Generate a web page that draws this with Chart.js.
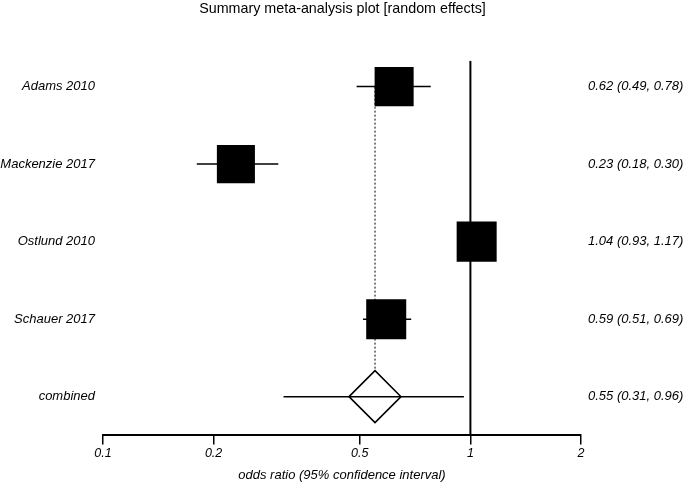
<!DOCTYPE html>
<html>
<head>
<meta charset="utf-8">
<script src="https://cdn.jsdelivr.net/npm/chart.js@4"></script>
<style>
  html, body { margin: 0; padding: 0; background: #fff; }
  #wrap { width: 685px; height: 483px; }
</style>
</head>
<body>
<div id="wrap"><canvas id="forest"></canvas></div>
<script>
const studies = ["Adams 2010", "Mackenzie 2017", "Ostlund 2010", "Schauer 2017", "combined"];
const oddsRatios = [0.62, 0.23, 1.04, 0.59, 0.55];
const lowerCI = [0.49, 0.18, 0.93, 0.51, 0.31];
const upperCI = [0.78, 0.30, 1.17, 0.69, 0.96];
const xTicks = [0.1, 0.2, 0.5, 1, 2];

const pooled = studies.length - 1;
const font = "'Liberation Sans', Arial, sans-serif";

const ciText = oddsRatios.map((v, i) =>
    v.toFixed(2) + " (" + lowerCI[i].toFixed(2) + ", " + upperCI[i].toFixed(2) + ")"
);

const ciLines = studies.map((s, i) => ({
    type: "line",
    data: [{ x: lowerCI[i], y: i + 1 }, { x: upperCI[i], y: i + 1 }],
    borderColor: "#000",
    borderWidth: 1.5,
    pointRadius: 0,
    order: 1
}));

const chart = new Chart(document.getElementById("forest"), {
    type: "scatter",
    data: {
        datasets: [
            ...ciLines,
            {
                // study boxes
                data: oddsRatios.slice(0, pooled).map((v, i) => ({ x: v, y: i + 1 })),
                pointStyle: "rect",
                pointRadius: [27.6, 26.9, 28.3, 28.3],
                backgroundColor: "#000",
                borderColor: "#000",
                borderWidth: 0,
                order: 2
            },
            {
                // pooled diamond
                data: [{ x: oddsRatios[pooled], y: pooled + 1 }],
                pointStyle: "rectRot",
                pointRadius: 26,
                backgroundColor: "#fff",
                borderColor: "#000",
                borderWidth: 1.5,
                order: 3
            },
            {
                // dotted line at pooled estimate
                type: "line",
                data: [{ x: oddsRatios[pooled], y: 1 }, { x: oddsRatios[pooled], y: pooled + 1 }],
                borderColor: "#000",
                borderWidth: 1,
                borderDash: [2, 2],
                pointRadius: 0,
                order: 4
            },
            {
                // line of no effect
                type: "line",
                data: [{ x: 1, y: 0.667 }, { x: 1, y: 5.5 }],
                borderColor: "#000",
                borderWidth: 2,
                pointRadius: 0,
                order: 5
            }
        ]
    },
    options: {
        responsive: true,
        maintainAspectRatio: false,
        animation: false,
        events: [],
        layout: { padding: 0 },
        plugins: {
            legend: { display: false },
            tooltip: { enabled: false },
            title: {
                display: true,
                text: "Summary meta-analysis plot [random effects]",
                color: "#000",
                font: { family: font, size: 14.3, weight: "normal", lineHeight: 1 },
                padding: { top: 1.5, bottom: 45 }
            }
        },
        scales: {
            x: {
                type: "logarithmic",
                min: 0.1,
                max: 2,
                afterBuildTicks: s => { s.ticks = xTicks.map(v => ({ value: v })); },
                ticks: {
                    color: "#000",
                    font: { family: font, size: 12.5, style: "italic" },
                    padding: 2,
                    maxRotation: 0,
                    autoSkip: false,
                    callback: v => String(v)
                },
                grid: { drawOnChartArea: false, drawTicks: true, tickLength: 9, color: "#000", lineWidth: 1.5 },
                border: { display: true, color: "#000", width: 2 },
                title: {
                    display: true,
                    text: "odds ratio (95% confidence interval)",
                    color: "#000",
                    font: { family: font, size: 13, style: "italic" },
                    padding: { top: 4, bottom: 0 }
                }
            },
            y: {
                type: "linear",
                position: "left",
                reverse: true,
                min: 0.667,
                max: 5.5,
                afterBuildTicks: s => { s.ticks = studies.map((n, i) => ({ value: i + 1 })); },
                afterFit: s => { s.width = 103; },
                ticks: {
                    color: "#000",
                    font: { family: font, size: 13, style: "italic" },
                    padding: 8,
                    callback: v => studies[v - 1]
                },
                grid: { display: false, drawTicks: false },
                border: { display: false }
            },
            y2: {
                type: "linear",
                position: "right",
                reverse: true,
                min: 0.667,
                max: 5.5,
                afterBuildTicks: s => { s.ticks = studies.map((n, i) => ({ value: i + 1 })); },
                afterFit: s => { s.width = 104; },
                ticks: {
                    color: "#000",
                    font: { family: font, size: 13, style: "italic" },
                    padding: 7,
                    callback: v => ciText[v - 1]
                },
                grid: { display: false, drawTicks: false },
                border: { display: false }
            }
        }
    }
});
</script>
</body>
</html>
